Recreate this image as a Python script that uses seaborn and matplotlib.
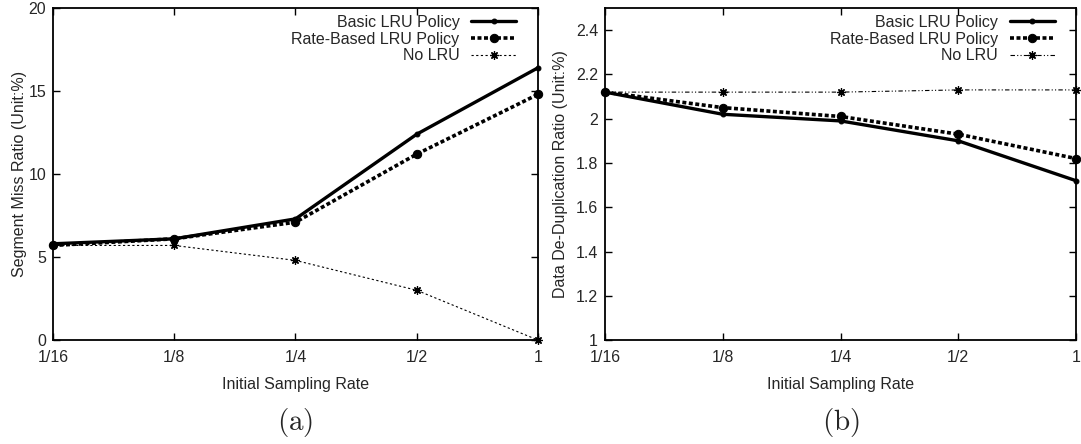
import matplotlib
matplotlib.use("Agg")
import matplotlib.pyplot as plt
import seaborn as sns
import pandas as pd

# Sampling rates on the x axis
rates = ["1/16", "1/8", "1/4", "1/2", "1"]

# (a) segment miss ratio, %
miss_basic = [5.8, 6.1, 7.3, 12.4, 16.4]
miss_rate = [5.7, 6.1, 7.1, 11.2, 14.8]
miss_nolru = [5.7, 5.7, 4.8, 3.0, 0.0]

# (b) data de-duplication ratio
dedup_basic = [2.12, 2.02, 1.99, 1.90, 1.72]
dedup_rate = [2.12, 2.05, 2.01, 1.93, 1.82]
dedup_nolru = [2.12, 2.12, 2.12, 2.13, 2.13]

series_names = ["Basic LRU Policy", "Rate-Based LRU Policy", "No LRU"]

sns.set_theme(style="white")
plt.rcParams["font.family"] = ["Liberation Sans", "DejaVu Sans"]
plt.rcParams["mathtext.fontset"] = "cm"

FS = 11.5

fig = plt.figure(figsize=(10.81, 4.44), dpi=100)
ax_a = fig.add_axes([0.049, 0.234, 0.4487, 0.748])
ax_b = fig.add_axes([0.5597, 0.234, 0.4357, 0.748])

styles = [
    dict(linestyle="-", linewidth=2.4, marker="o", markersize=3.5),
    dict(linestyle=(0, (1.1, 0.7)), linewidth=2.6, marker="o", markersize=6),
]
nolru_a = dict(linestyle=(0, (2.0, 2.2)), linewidth=0.8, marker=(8, 2, 0),
               markersize=6, markeredgewidth=0.9)
nolru_b = dict(linestyle=(0, (4, 2, 1, 2, 1, 2)), linewidth=0.8, marker=(8, 2, 0),
               markersize=6, markeredgewidth=0.9)


def draw(ax, basic, rate, nolru, nolru_style, ylabel, ylim, yticks):
    x = list(range(len(rates)))
    for vals, name, st in zip([basic, rate, nolru], series_names,
                              styles + [nolru_style]):
        df = pd.DataFrame({"rate": x, "value": vals})
        sns.lineplot(data=df, x="rate", y="value", ax=ax, color="black",
                     label=name, markeredgecolor="black", clip_on=False, **st)
    ax.set_xlim(0, len(rates) - 1)
    ax.set_ylim(*ylim)
    ax.set_xticks(x)
    ax.set_xticklabels(rates)
    ax.set_yticks(yticks)
    ax.set_yticklabels(["%g" % v for v in yticks])
    ax.set_xlabel("Initial Sampling Rate", fontsize=FS, labelpad=9)
    ax.set_ylabel(ylabel, fontsize=FS)
    ax.tick_params(direction="in", length=5, width=1, labelsize=FS,
                   top=True, right=True, bottom=True, left=True, color="black")
    ax.tick_params(axis="x", pad=7)
    ax.tick_params(axis="y", pad=5)
    for sp in ax.spines.values():
        sp.set_color("black")
        sp.set_linewidth(1.3)
    ax.legend(loc="upper right", bbox_to_anchor=(0.955, 0.979), frameon=False,
              markerfirst=False, fontsize=FS, handlelength=2.8,
              handletextpad=0.75, labelspacing=0.1, borderpad=0,
              borderaxespad=0)


draw(ax_a, miss_basic, miss_rate, miss_nolru, nolru_a,
     "Segment Miss Ratio (Unit:%)", (0, 20), [0, 5, 10, 15, 20])
draw(ax_b, dedup_basic, dedup_rate, dedup_nolru, nolru_b,
     "Data De-Duplication Ratio (Unit:%)", (1, 2.5),
     [1.0, 1.2, 1.4, 1.6, 1.8, 2.0, 2.2, 2.4])

ax_a.yaxis.set_label_coords(-0.054, 0.5)
ax_b.yaxis.set_label_coords(-0.078, 0.5)

fig.text(0.2733, 0.048, r"$\mathrm{(a)}$", fontsize=21, ha="center", va="center")
fig.text(0.778, 0.048, r"$\mathrm{(b)}$", fontsize=21, ha="center", va="center")

fig.savefig("out.png", dpi=100)
